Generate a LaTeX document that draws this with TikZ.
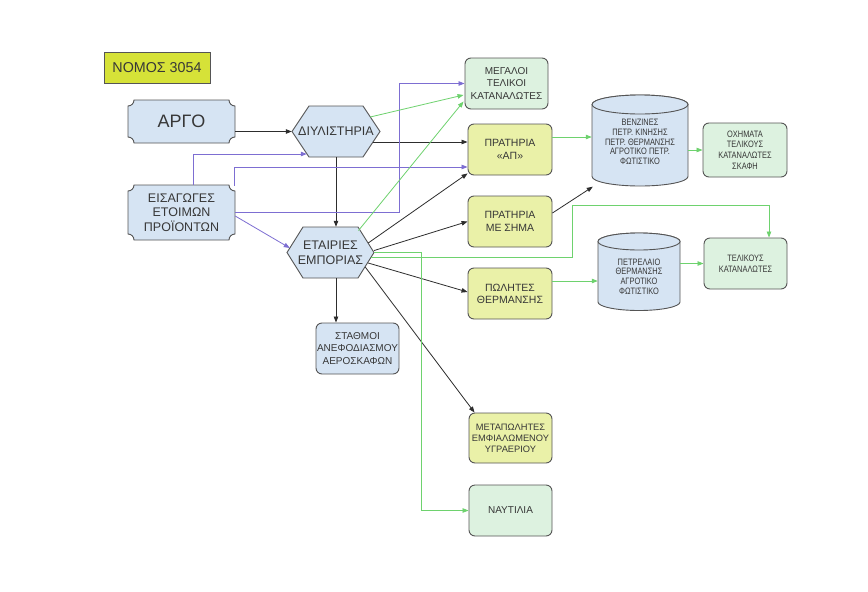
\documentclass[tikz,border=0pt]{standalone}
\usepackage{fontspec}
\setmainfont{Liberation Sans}
\newfontfamily\narrowfont[FakeStretch=0.8]{Liberation Sans}
\usetikzlibrary{arrows.meta,calc}
\definecolor{nomosc}{RGB}{214,226,56}
\definecolor{bluef}{RGB}{214,228,243}
\definecolor{yelf}{RGB}{234,241,168}
\definecolor{grnf}{RGB}{221,242,224}
\definecolor{bordc}{RGB}{85,85,85}
\definecolor{txtc}{RGB}{55,55,55}
\definecolor{darkc}{RGB}{45,45,45}
\definecolor{purc}{RGB}{125,110,210}
\definecolor{grnc}{RGB}{110,210,110}
\newcommand\plaquepath[5]{%
  \filldraw[fill=bluef, draw=bordc, line width=0.9pt]
  ({#1+#5},{#2}) -- ({#3-#5},{#2})
  .. controls ({#3-#5},{#2+0.552*#5}) and ({#3-0.552*#5},{#2+#5}) .. ({#3},{#2+#5})
  -- ({#3},{#4-#5})
  .. controls ({#3-0.552*#5},{#4-#5}) and ({#3-#5},{#4-0.552*#5}) .. ({#3-#5},{#4})
  -- ({#1+#5},{#4})
  .. controls ({#1+#5},{#4-0.552*#5}) and ({#1+0.552*#5},{#4-#5}) .. ({#1},{#4-#5})
  -- ({#1},{#2+#5})
  .. controls ({#1+0.552*#5},{#2+#5}) and ({#1+#5},{#2+0.552*#5}) .. ({#1+#5},{#2}) -- cycle;}
\begin{document}
\begin{tikzpicture}[x=1pt,y=-1pt,
  box/.style={draw=bordc, line width=0.9pt, rounded corners=6pt, minimum width=83pt,
    minimum height=51pt, inner sep=0pt, align=center, text=txtc,
    font=\fontsize{10}{12.3}\selectfont},
  bluebox/.style={box, fill=bluef},
  yelbox/.style={box, fill=yelf},
  grnbox/.style={box, fill=grnf},
  ghost/.style={inner sep=0pt, align=center, text=txtc},
  hexst/.style={fill=bluef, draw=bordc, line width=0.9pt},
  darr/.style={draw=darkc, line width=0.8pt, -{Triangle[length=6pt,width=4.5pt]}},
  parr/.style={draw=purc, line width=0.8pt, -{Triangle[length=6pt,width=4.5pt]}},
  garr/.style={draw=grnc, line width=0.8pt, -{Triangle[length=6pt,width=4.5pt]}},
  cylst/.style={fill=bluef, draw=bordc, line width=0.9pt}
]
\fill[white] (0,0) rectangle (868,592);
\useasboundingbox (0,0) rectangle (868,592);

% title
\node[box, fill=nomosc, rounded corners=0pt, minimum width=106pt, minimum height=31pt,
  font=\fontsize{14.3}{16}\selectfont] (nomos) at (157,67.5) {ΝΟΜΟΣ 3054};

% plaques
\plaquepath{128}{100}{235}{143}{6}
\node[ghost, minimum width=107pt, minimum height=43pt, font=\fontsize{18}{20}\selectfont] (argo) at (181.5,121.5) {ΑΡΓΟ};
\plaquepath{128}{185}{235}{240}{6}
\node[ghost, minimum width=107pt, minimum height=55pt, font=\fontsize{12.5}{14.8}\selectfont] (eis) at (181.5,212.5) {ΕΙΣΑΓΩΓΕΣ\\ΕΤΟΙΜΩΝ\\ΠΡΟΪΟΝΤΩΝ};

% hexagons
\draw[hexst] (292,131.5) -- (309,106) -- (363,106) -- (380,131.5) -- (363,157) -- (309,157) -- cycle;
\node[ghost, minimum width=88pt, minimum height=51pt, font=\fontsize{12.5}{14}\selectfont] (dil) at (336,131.5) {ΔΙΥΛΙΣΤΗΡΙΑ};
\draw[hexst] (287,252.5) -- (303,227) -- (358,227) -- (374,252.5) -- (358,278) -- (303,278) -- cycle;
\node[ghost, minimum width=87pt, minimum height=51pt, font=\fontsize{12.5}{14.7}\selectfont] (eta) at (330.5,252.5) {ΕΤΑΙΡΙΕΣ\\ΕΜΠΟΡΙΑΣ};

% cylinders
\draw[cylst] (592,104.5) -- (592,176.5) arc[start angle=180,end angle=360,x radius=48pt,y radius=9.5pt]
  -- (688,104.5) arc[start angle=0,end angle=180,x radius=48pt,y radius=9.5pt] -- cycle;
\draw[cylst] (640,104.5) ellipse[x radius=48pt,y radius=9.5pt];
\node[ghost, minimum width=96pt, minimum height=91pt, font=\narrowfont\fontsize{9.3}{9.8}\selectfont] (cyla) at (640,142)
  {ΒΕΝΖΙΝΕΣ\\ΠΕΤΡ. ΚΙΝΗΣΗΣ\\ΠΕΤΡ. ΘΕΡΜΑΝΣΗΣ\\ΑΓΡΟΤΙΚΟ ΠΕΤΡ.\\ΦΩΤΙΣΤΙΚΟ};
\draw[cylst] (598,241.5) -- (598,302) arc[start angle=180,end angle=360,x radius=41pt,y radius=8.5pt]
  -- (680,241.5) arc[start angle=0,end angle=180,x radius=41pt,y radius=8.5pt] -- cycle;
\draw[cylst] (639,241.5) ellipse[x radius=41pt,y radius=8.5pt];
\node[ghost, minimum width=82pt, minimum height=60pt, font=\narrowfont\fontsize{9.3}{9.8}\selectfont] (cylb) at (639,276.5)
  {ΠΕΤΡΕΛΑΙΟ\\ΘΕΡΜΑΝΣΗΣ\\ΑΓΡΟΤΙΚΟ\\ΦΩΤΙΣΤΙΚΟ};

% boxes
\node[bluebox] (stath) at (357.5,348.5) {ΣΤΑΘΜΟΙ\\ΑΝΕΦΟΔΙΑΣΜΟΥ\\ΑΕΡΟΣΚΑΦΩΝ};
\node[grnbox] (meg) at (506.5,83.5) {ΜΕΓΑΛΟΙ\\ΤΕΛΙΚΟΙ\\ΚΑΤΑΝΑΛΩΤΕΣ};
\node[yelbox, minimum width=84pt, font=\fontsize{10.5}{12.3}\selectfont] (ap) at (510,149.5) {ΠΡΑΤΗΡΙΑ\\«ΑΠ»};
\node[yelbox, minimum width=84pt, font=\fontsize{10.5}{13}\selectfont] (sima) at (510,221.5) {ΠΡΑΤΗΡΙΑ\\ΜΕ ΣΗΜΑ};
\node[yelbox, minimum width=84pt, font=\fontsize{10.5}{12}\selectfont] (pol) at (510,293.5) {ΠΩΛΗΤΕΣ\\ΘΕΡΜΑΝΣΗΣ};
\node[yelbox, minimum height=50pt, font=\fontsize{9.3}{11}\selectfont] (met) at (510.5,438) {ΜΕΤΑΠΩΛΗΤΕΣ\\ΕΜΦΙΑΛΩΜΕΝΟΥ\\ΥΓΡΑΕΡΙΟΥ};
\node[grnbox] (nav) at (510.5,510.5) {ΝΑΥΤΙΛΙΑ};
\node[grnbox, minimum width=84pt, minimum height=54pt, font=\narrowfont\fontsize{9.3}{10.7}\selectfont] (ox) at (745,150) {ΟΧΗΜΑΤΑ\\ΤΕΛΙΚΟΥΣ\\ΚΑΤΑΝΑΛΩΤΕΣ\\ΣΚΑΦΗ};
\node[grnbox, font=\narrowfont\fontsize{9.3}{11}\selectfont] (tel) at (745.5,263.5) {ΤΕΛΙΚΟΥΣ\\ΚΑΤΑΝΑΛΩΤΕΣ};

% connectors: dark
\draw[darr] (argo.east |- dil.west) -- (dil.west);
\draw[darr] (dil.south) -- (dil.south |- eta.north);
\draw[darr] ($(dil.east)+(-7,10.5)$) -- ($(ap.west)+(0,-7.5)$);
\draw[darr] ($(eta.east)+(-6,-9.5)$) -- ($(ap.south west)+(0,-2)$);
\draw[darr] ($(eta.east)+(0,-2)$) -- (sima.west);
\draw[darr] ($(eta.east)+(-6,10.5)$) -- ($(pol.west)+(0,-1.5)$);
\draw[darr] ($(eta.east)+(-9,14.5)$) -- ($(met.north west)+(6,0)$);
\draw[darr] (dil.south |- eta.south) -- (dil.south |- stath.north);
\draw[darr] ($(sima.east)+(0,-8.5)$) -- ($(cyla.south west)+(1,-1)$);

% connectors: purple
\draw[parr] ($(eis.north)+(12,0)$) |- ($(dil.west)+(15,22.5)$);
\draw[parr] (eis.east) -- ++(164,0) |- (meg.west);
\draw[parr] ($(eis.north east)+(-1,1)$) |- ($(ap.west)+(0,17.5)$);
\draw[parr] ($(eis.east)+(0,3.5)$) -- ($(eta.west)+(3,-4.5)$);

% connectors: green
\draw[garr] ($(dil.east)+(-10,-14.5)$) -- ($(meg.west)+(-1,11.5)$);
\draw[garr] ($(eta.center)+(28,-22)$) -- ($(meg.west)+(-1,18)$);
\draw[garr] ($(eta.east)+(-3,5)$) -| ($(eta.east)+(198,-47.5)$) -| ($(tel.north)+(23.5,0)$);
\draw[garr] (eta.east) -- ++(47,0) |- (nav.west);
\draw[garr] ($(ap.east)+(0,-12.5)$) -- ($(cyla.west)+(0,-5)$);
\draw[garr] (cyla.east |- ox.west) -- (ox.west);
\draw[garr] ($(pol.east)+(0,-12.5)$) -- (cylb.west |- 0,281);
\draw[garr] (cylb.east |- tel.west) -- (tel.west);
\end{tikzpicture}
\end{document}
